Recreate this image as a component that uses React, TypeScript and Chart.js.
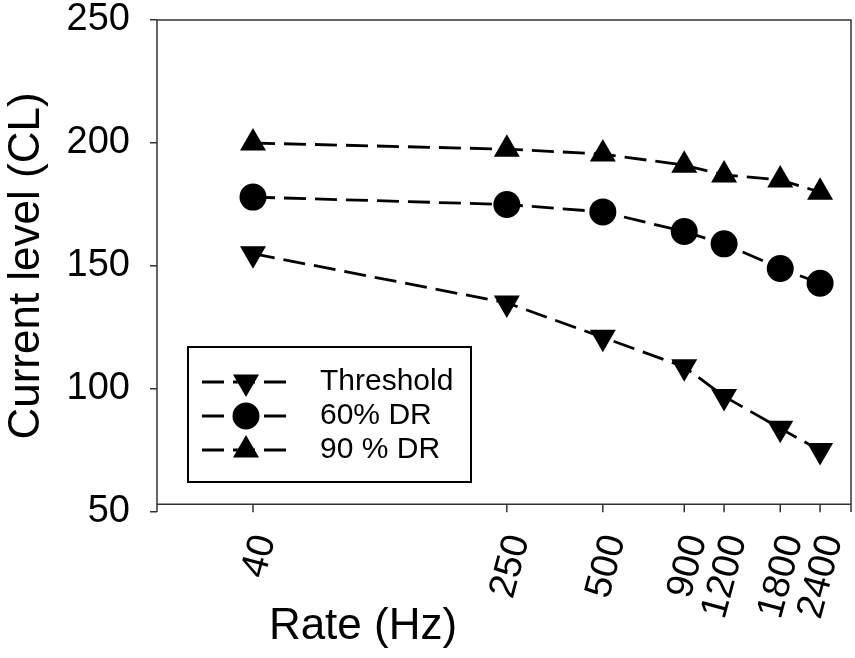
import React, { useEffect, useRef } from 'react';
import { Chart, registerables } from 'chart.js';
import { drawPoint } from 'chart.js/helpers';

Chart.register(...registerables);

// stimulation rates (Hz) and levels
const rates = [40, 250, 500, 900, 1200, 1800, 2400];
const threshold = [155, 135, 121, 109, 97, 84, 75];
const dr60 = [178, 175, 172, 164, 159, 149, 143];
const dr90 = [200, 197.5, 195.5, 191, 187, 185, 180];
const yTicks = [50, 100, 150, 200, 250];

const FONT = "'Liberation Sans', Arial, sans-serif";
const AXIS_COLOR = '#333333';

const toPoints = (vals: number[]) => rates.map((r, i) => ({ x: r, y: vals[i] }));

// stop the scales from pushing the plot area in for overhanging labels
const noMargins = (scale: any) => {
  scale.paddingTop = 0;
  scale.paddingBottom = 0;
  scale.paddingLeft = 0;
  scale.paddingRight = 0;
};

// box around the plot, the raised x axis line and its ticks, x title
const framePlugin = {
  id: 'frame',
  beforeDatasetsDraw(chart: any) {
    const { ctx, chartArea, scales } = chart;
    const { left, right, top, bottom } = chartArea;
    const axisY = scales.y.getPixelForValue(53.2);
    ctx.save();
    ctx.strokeStyle = AXIS_COLOR;
    ctx.lineWidth = 1.5;
    ctx.setLineDash([]);
    ctx.beginPath();
    ctx.moveTo(left, bottom);
    ctx.lineTo(left, top);
    ctx.lineTo(right, top);
    ctx.lineTo(right, bottom);
    ctx.moveTo(left, axisY);
    ctx.lineTo(right, axisY);
    rates.forEach((r) => {
      const px = scales.x.getPixelForValue(r);
      ctx.moveTo(px, axisY);
      ctx.lineTo(px, axisY + 8);
    });
    ctx.stroke();

    ctx.fillStyle = '#000';
    ctx.font = `44px ${FONT}`;
    ctx.textAlign = 'center';
    ctx.textBaseline = 'middle';
    ctx.fillText('Rate (Hz)', left + 206, 627);
    ctx.restore();
  },
};

// legend box drawn inside the plot area
const legendPlugin = {
  id: 'boxLegend',
  afterDatasetsDraw(chart: any) {
    const { ctx, chartArea } = chart;
    const bx = chartArea.left + 31;
    const by = chartArea.top + 327;
    ctx.save();
    ctx.setLineDash([]);
    ctx.fillStyle = '#fff';
    ctx.strokeStyle = '#000';
    ctx.lineWidth = 2;
    ctx.fillRect(bx, by, 283, 135);
    ctx.strokeRect(bx, by, 283, 135);

    chart.data.datasets.forEach((ds: any, i: number) => {
      const rowY = by + 35 + i * 34;
      ctx.strokeStyle = '#000';
      ctx.lineWidth = ds.borderWidth;
      ctx.setLineDash(ds.borderDash);
      ctx.beginPath();
      ctx.moveTo(bx + 14, rowY);
      ctx.lineTo(bx + 100, rowY);
      ctx.stroke();
      ctx.setLineDash([]);
      ctx.fillStyle = '#000';
      drawPoint(
        ctx,
        { pointStyle: ds.pointStyle, radius: ds.pointRadius, rotation: ds.rotation || 0, borderWidth: 0 },
        bx + 58,
        rowY
      );
      ctx.font = `30px ${FONT}`;
      ctx.textAlign = 'left';
      ctx.textBaseline = 'middle';
      ctx.fillText(ds.label, bx + 132, rowY);
    });
    ctx.restore();
  },
};

const App: React.FC = () => {
  const canvasRef = useRef<HTMLCanvasElement>(null);

  useEffect(() => {
    if (!canvasRef.current) return;
    const common = {
      borderColor: '#000',
      backgroundColor: '#000',
      pointBackgroundColor: '#000',
      pointBorderColor: '#000',
      pointBorderWidth: 0,
      borderWidth: 2.8,
      borderDash: [22, 9],
      tension: 0,
      showLine: true,
    };
    const chart = new Chart(canvasRef.current, {
      type: 'scatter',
      data: {
        datasets: [
          { ...common, label: 'Threshold', data: toPoints(threshold), pointStyle: 'triangle', rotation: 180, pointRadius: 15 },
          { ...common, label: '60% DR', data: toPoints(dr60), pointStyle: 'circle', pointRadius: 13.5 },
          { ...common, label: '90 % DR', data: toPoints(dr90), pointStyle: 'triangle', pointRadius: 15 },
        ] as any,
      },
      options: {
        animation: false,
        responsive: true,
        maintainAspectRatio: false,
        layout: { autoPadding: false, padding: { top: 20, right: 4, left: 0, bottom: 0 } },
        plugins: {
          legend: { display: false },
          tooltip: { enabled: false },
        },
        scales: {
          x: {
            type: 'logarithmic',
            min: 20,
            max: 3000,
            afterBuildTicks: (scale: any) => {
              scale.ticks = rates.map((v) => ({ value: v }));
            },
            afterFit: (scale: any) => {
              scale.height = 146;
              noMargins(scale);
            },
            grid: { display: false, drawTicks: true, tickLength: 18 },
            border: { display: false },
            ticks: {
              autoSkip: false,
              minRotation: 75,
              maxRotation: 75,
              padding: 0,
              labelOffset: 12,
              color: '#000',
              font: { family: FONT, size: 38 },
              callback: (v: any) => String(v),
            },
          },
          y: {
            min: 50,
            max: 250,
            afterBuildTicks: (scale: any) => {
              scale.ticks = yTicks.map((v) => ({ value: v }));
            },
            afterFit: (scale: any) => {
              scale.width = 157;
              noMargins(scale);
            },
            grid: {
              display: true,
              drawOnChartArea: false,
              drawTicks: true,
              tickLength: 7,
              color: AXIS_COLOR,
              lineWidth: 1.5,
            },
            border: { display: false },
            ticks: {
              padding: 20,
              color: '#000',
              font: { family: FONT, size: 38 },
            },
            title: {
              display: true,
              text: 'Current level (CL)',
              color: '#000',
              font: { family: FONT, size: 44 },
              padding: { top: 0, bottom: 0 },
            },
          },
        },
      },
      plugins: [framePlugin, legendPlugin],
    });
    return () => chart.destroy();
  }, []);

  return (
    <div style={{ position: 'fixed', left: 0, top: 0, width: 855, height: 658, background: '#fff' }}>
      <canvas ref={canvasRef}></canvas>
    </div>
  );
};

export default App;
